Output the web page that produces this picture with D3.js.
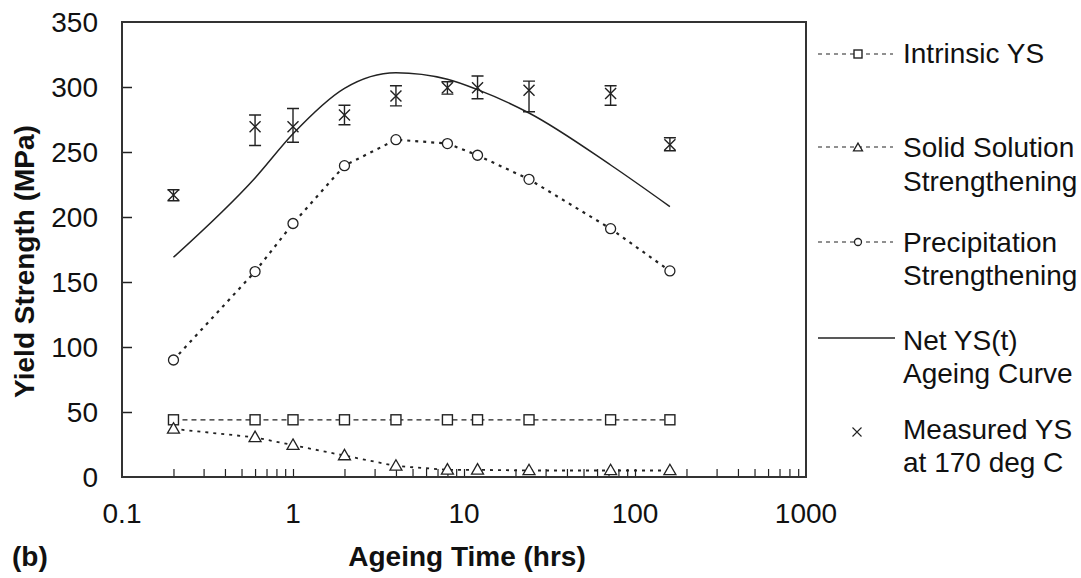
<!DOCTYPE html>
<html><head><meta charset="utf-8">
<script src="https://cdn.jsdelivr.net/npm/d3@7"></script>
<style>
body{margin:0;background:#fff}
svg{display:block}
text{font-family:"Liberation Sans",Arial,Helvetica,sans-serif;fill:#111}
</style>
</head><body>
<svg id="c" width="1081" height="578"></svg>
<script>
// ---- data ----
const times = [0.2, 0.6, 1, 2, 4, 8, 12, 24, 72, 160];
const intrinsicYS = [44, 44, 44, 44, 44, 44, 44, 44, 44, 44];
const solidSolution = [37, 30.5, 24.5, 16.5, 8.5, 5.5, 5.5, 5, 5, 5];
const precipitation = [90, 158, 195, 239.5, 259.5, 256.5, 247.5, 229, 191, 158.5];
const netYS = [169, 230, 264, 299, 311, 306, 298, 280, 240, 208];
const measuredYS = [217, 269.5, 269.5, 278.5, 293, 299.5, 299.5, 297.5, 295, 255.5];
const measuredHigh = [221, 278.5, 283.5, 286, 301, 304, 308.5, 304.5, 301, 261];
const measuredLow = [212.5, 255, 257.5, 271, 285.5, 294.5, 291, 281, 286, 251];
const xTickLabels = ["0.1", "1", "10", "100", "1000"];
const yTickLabels = [0, 50, 100, 150, 200, 250, 300, 350];
const legendLabels = [["Intrinsic YS"], ["Solid Solution", "Strengthening"], ["Precipitation", "Strengthening"], ["Net YS(t)", "Ageing Curve"], ["Measured YS", "at 170 deg C"]];

// ---- layout ----
const svg = d3.select("#c");
const L = 122, R = 806, T = 22, B = 477;
const x = d3.scaleLog().domain([0.1, 1000]).range([L, R]);
const y = d3.scaleLinear().domain([0, 350]).range([B, T]);
const ink = "#222";

// minor ticks along bottom (inside)
const minor = [];
[0.1, 1, 10, 100].forEach(d => { for (let k = 2; k <= 10; k++) { const v = d * k; if (v < 1000) minor.push(v); } });
const gx = svg.append("g").attr("transform", `translate(0,${B})`)
  .call(d3.axisBottom(x).tickValues(minor).tickSize(-8).tickSizeOuter(0).tickFormat(""));
gx.select(".domain").remove();
gx.selectAll("line").attr("stroke", ink).attr("stroke-width", 1.2);

// x labels
svg.append("g").selectAll("text").data(xTickLabels).join("text")
  .attr("x", d => x(+d)).attr("y", 523).attr("text-anchor", "middle")
  .attr("font-size", 28).text(d => d);

// y ticks inside
const gy = svg.append("g").attr("transform", `translate(${L},0)`)
  .call(d3.axisLeft(y).tickValues(yTickLabels.slice(1, -1)).tickSize(-10).tickSizeOuter(0).tickFormat(""));
gy.select(".domain").remove();
gy.selectAll("line").attr("stroke", ink).attr("stroke-width", 1.5);
svg.append("g").selectAll("text").data(yTickLabels).join("text")
  .attr("x", 98).attr("y", d => y(d)).attr("dy", "0.36em").attr("text-anchor", "end")
  .attr("font-size", 28).text(d => d);

// frame
svg.append("rect").attr("x", L).attr("y", T).attr("width", R - L).attr("height", B - T)
  .attr("fill", "none").attr("stroke", "#333").attr("stroke-width", 2);

// titles
svg.append("text").attr("transform", `translate(34,${(T + B) / 2 + 12}) rotate(-90)`)
  .attr("text-anchor", "middle").attr("font-size", 28).attr("font-weight", "bold").text("Yield Strength (MPa)");
svg.append("text").attr("x", 467).attr("y", 566).attr("text-anchor", "middle")
  .attr("font-size", 28).attr("font-weight", "bold").text("Ageing Time (hrs)");
svg.append("text").attr("x", 12).attr("y", 566).attr("font-size", 28).attr("font-weight", "bold").text("(b)");

// ---- series ----
const pts = vals => times.map((t, i) => [t, vals[i]]);
const lineGen = d3.line().x(d => x(d[0])).y(d => y(d[1]));
const smooth = d3.line().x(d => x(d[0])).y(d => y(d[1])).curve(d3.curveMonotoneX);

svg.append("path").datum(pts(intrinsicYS)).attr("d", lineGen)
  .attr("fill", "none").attr("stroke", ink).attr("stroke-width", 1.2).attr("stroke-dasharray", "5,4");
svg.append("path").datum(pts(solidSolution)).attr("d", lineGen)
  .attr("fill", "none").attr("stroke", ink).attr("stroke-width", 1.8).attr("stroke-dasharray", "3,5");
svg.append("path").datum(pts(precipitation)).attr("d", lineGen)
  .attr("fill", "none").attr("stroke", ink).attr("stroke-width", 2.2).attr("stroke-dasharray", "3,5");
svg.append("path").datum(pts(netYS)).attr("d", smooth)
  .attr("fill", "none").attr("stroke", ink).attr("stroke-width", 1.5);

// markers
function square(g, cx, cy, s) {
  g.append("rect").attr("x", cx - s / 2).attr("y", cy - s / 2).attr("width", s).attr("height", s)
    .attr("fill", "#fff").attr("stroke", ink).attr("stroke-width", 1.4);
}
function tri(g, cx, cy, s) {
  const h = s * 0.87;
  g.append("path").attr("d", `M${cx},${cy - h / 2}L${cx + s / 2},${cy + h / 2}L${cx - s / 2},${cy + h / 2}Z`)
    .attr("fill", "#fff").attr("stroke", ink).attr("stroke-width", 1.3);
}
function circ(g, cx, cy, r) {
  g.append("circle").attr("cx", cx).attr("cy", cy).attr("r", r)
    .attr("fill", "#fff").attr("stroke", ink).attr("stroke-width", 1.3);
}
function cross(g, cx, cy, s, w) {
  g.append("path").attr("d", `M${cx - s},${cy - s}L${cx + s},${cy + s}M${cx - s},${cy + s}L${cx + s},${cy - s}`)
    .attr("stroke", ink).attr("stroke-width", w).attr("fill", "none");
}
const gm = svg.append("g");
times.forEach((t, i) => {
  square(gm, x(t), y(intrinsicYS[i]), 10);
  tri(gm, x(t), y(solidSolution[i]) - 1, 12);
  circ(gm, x(t), y(precipitation[i]), 5);
});
times.forEach((t, i) => {
  const cx = x(t);
  gm.append("path").attr("d",
    `M${cx},${y(measuredHigh[i])}L${cx},${y(measuredLow[i])}` +
    `M${cx - 6},${y(measuredHigh[i])}L${cx + 6},${y(measuredHigh[i])}` +
    `M${cx - 6},${y(measuredLow[i])}L${cx + 6},${y(measuredLow[i])}`)
    .attr("stroke", ink).attr("stroke-width", 1.4).attr("fill", "none");
  cross(gm, cx, y(measuredYS[i]), 5.5, 1.4);
});

// ---- legend ----
const lg = svg.append("g");
const lx0 = 818, lx1 = 893, lmx = 858, tx = 903;
const rows = [
  {ly: 54, base: [63]},
  {ly: 147, base: [157, 191]},
  {ly: 242, base: [252, 285]},
  {ly: 338, base: [350, 383]},
  {ly: 432, base: [439, 472]}
];
rows.forEach((r, i) => {
  if (i < 3) {
    lg.append("line").attr("x1", lx0).attr("x2", lx1).attr("y1", r.ly).attr("y2", r.ly)
      .attr("stroke", ink).attr("stroke-width", 1.1).attr("stroke-dasharray", "4,4");
    if (i === 0) square(lg, lmx, r.ly, 8);
    if (i === 1) tri(lg, lmx, r.ly, 9);
    if (i === 2) circ(lg, lmx, r.ly, 3.5);
  } else if (i === 3) {
    lg.append("line").attr("x1", lx0).attr("x2", lx1 + 2).attr("y1", r.ly).attr("y2", r.ly)
      .attr("stroke", ink).attr("stroke-width", 1.5);
  } else {
    cross(lg, 857, r.ly, 4.5, 1.1);
  }
  legendLabels[i].forEach((s, k) => {
    lg.append("text").attr("x", tx).attr("y", r.base[k]).attr("font-size", 28).text(s);
  });
});
</script>
</body></html>
